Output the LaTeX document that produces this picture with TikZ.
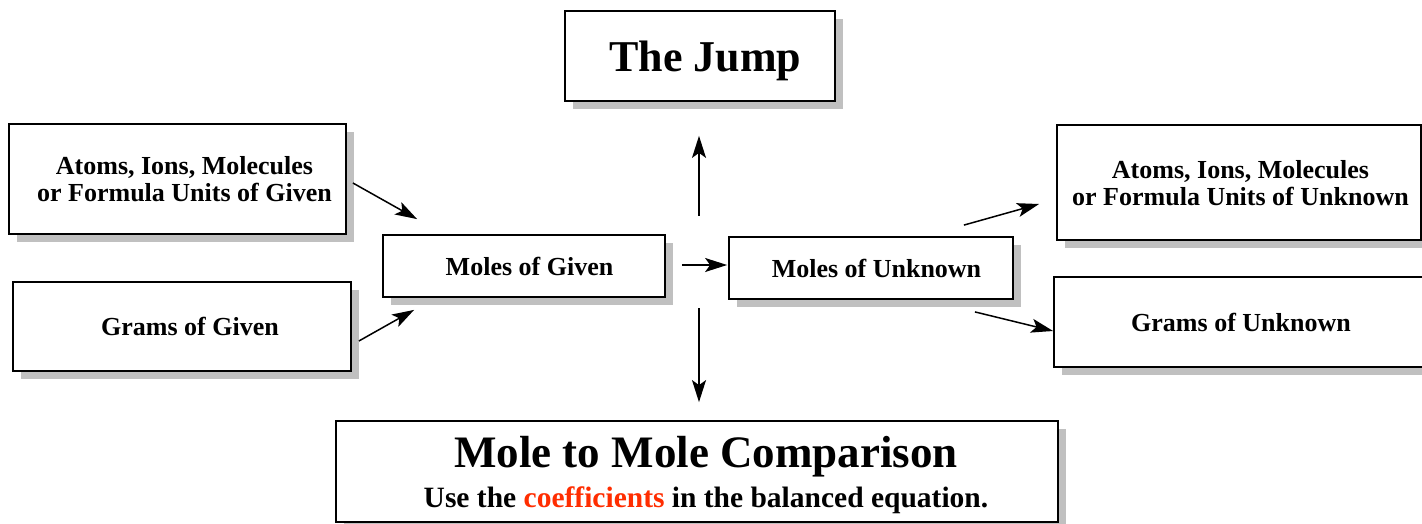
\documentclass[tikz,border=0pt]{standalone}
\usepackage{fontspec}
\setmainfont{Liberation Serif}
\usetikzlibrary{arrows.meta,shadows}
\definecolor{coefred}{RGB}{255,45,0}
\definecolor{shadowgray}{RGB}{192,192,192}
\begin{document}
\begin{tikzpicture}[x=1pt,y=-1pt,
  box/.style={draw, line width=1.8pt, fill=white, rectangle, inner sep=0pt, align=center,
    text depth=0pt,
    font=\fontsize{26}{27}\selectfont\bfseries,
    drop shadow={shadow xshift=8pt, shadow yshift=-8pt, fill=shadowgray, opacity=1}},
  arr/.style={line width=1.5pt, -{Stealth[length=22pt,width=14pt,inset=5pt]}}]
\useasboundingbox (0,0) rectangle (1422,524);
\node[box, minimum width=270pt, minimum height=90pt, font=\fontsize{44}{44}\selectfont\bfseries]
  (jump) at (700,56) {\hspace*{11pt}The Jump};
\node[box, minimum width=337pt, minimum height=110pt]
  (atomsG) at (177.5,179) {\hspace*{14pt}Atoms, Ions, Molecules\\\hspace*{14pt}or Formula Units of Given};
\node[box, minimum width=338pt, minimum height=89pt]
  (gramsG) at (182,326.5) {\hspace*{16pt}Grams of Given};
\node[box, minimum width=282pt, minimum height=62pt]
  (molesG) at (524,266) {\hspace*{11pt}Moles of Given};
\node[box, minimum width=284pt, minimum height=62pt]
  (molesU) at (871,268) {\hspace*{11pt}Moles of Unknown};
\node[box, minimum width=364pt, minimum height=115pt]
  (atomsU) at (1239,182.5) {\hspace*{3pt}Atoms, Ions, Molecules\\\hspace*{3pt}or Formula Units of Unknown};
\node[box, minimum width=374pt, minimum height=90pt]
  (gramsU) at (1241,322) {Grams of Unknown};
\node[box, minimum width=722pt, minimum height=101pt, font=\fontsize{29.5}{40}\selectfont\bfseries]
  (mole) at (697,471.5) {\hspace*{18pt}{\fontsize{45}{40}\selectfont Mole to Mole Comparison}\\
  \hspace*{18pt}Use the \textcolor{coefred}{coefficients} in the balanced equation.};
\draw[arr] ([xshift=6pt,yshift=-4pt]atomsG.east) -- ([xshift=35pt,yshift=15pt]molesG.north west);
\draw[arr] ([xshift=7pt,yshift=-14.5pt]gramsG.east) -- ([xshift=32pt,yshift=-12pt]molesG.south west);
\draw[arr] ([xshift=-1pt,yshift=-114pt]jump.south) -- ([xshift=-1pt,yshift=-34pt]jump.south);
\draw[arr] ([xshift=2pt,yshift=112pt]mole.north) -- ([xshift=2pt,yshift=18pt]mole.north);
\draw[arr] ([xshift=16pt,yshift=1pt]molesG.east) -- ([xshift=-1pt,yshift=3pt]molesU.west);
\draw[arr] ([xshift=-50pt,yshift=11pt]molesU.north east) -- ([xshift=-17pt,yshift=-21.5pt]atomsU.west);
\draw[arr] ([xshift=-39pt,yshift=-12pt]molesU.south east) -- ([yshift=-9pt]gramsU.west);
\end{tikzpicture}
\end{document}
